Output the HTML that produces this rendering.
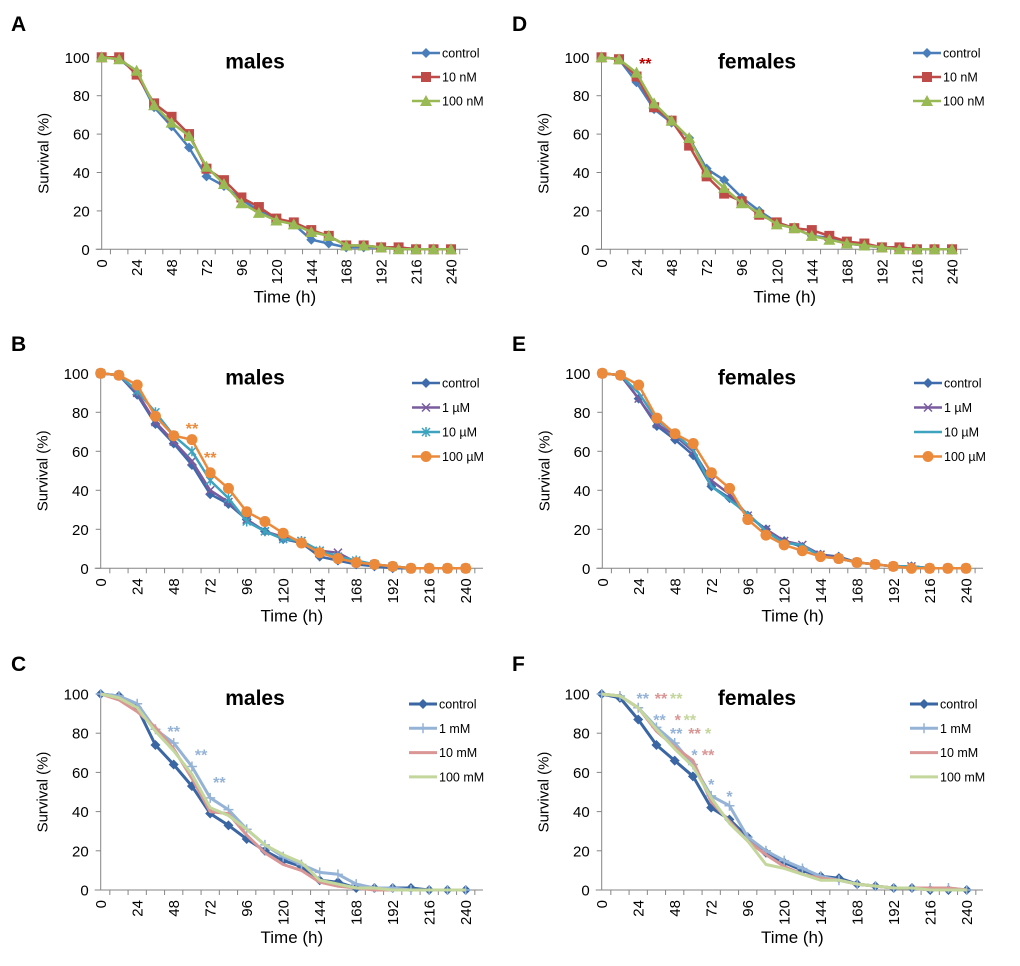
<!DOCTYPE html>
<html><head><meta charset="utf-8"><style>
html,body{margin:0;padding:0;background:#fff}
svg{display:block;font-family:"Liberation Sans",sans-serif}
</style></head><body>
<svg id="fig" width="1020" height="966" viewBox="0 0 1020 966"></svg>
<script>
const times=[0,12,24,36,48,60,72,84,96,108,120,132,144,156,168,180,192,204,216,228,240];
const xTicks=[0,24,48,72,96,120,144,168,192,216,240];
const yTicks=[0,20,40,60,80,100];
// Panel A (males, nM)
const aControl=[100,99,92,74,64,53,38,33,26,20,16,13,5,3,1,1,1,1,0,0,0];
const a10nM=[100,100,91,76,69,60,42,36,27,22,16,14,10,7,2,2,1,1,0,0,0];
const a100nM=[100,99,93,75,66,59,43,34,24,19,15,13,9,7,2,2,1,0,0,0,0];
// Panel D (females, nM)
const dControl=[100,99,87,73,66,58,42,36,27,20,14,11,7,6,3,2,1,1,0,0,0];
const d10nM=[100,99,90,74,67,54,38,29,25,18,14,11,10,7,4,3,1,1,0,0,0];
const d100nM=[100,99,92,76,67,58,40,32,24,19,13,11,7,5,3,2,1,0,0,0,0];
// Panel B (males, µM)
const bControl=[100,99,89,74,64,53,38,33,25,19,15,13,6,4,2,1,0,0,0,0,0];
const b1uM=[100,99,90,75,65,55,40,34,25,19,16,14,9,8,3,2,1,0,0,0,0];
const b10uM=[100,99,91,80,68,60,45,36,24,19,15,14,9,6,4,2,1,0,0,0,0];
const b100uM=[100,99,94,78,68,66,49,41,29,24,18,13,8,5,3,2,1,0,0,0,0];
// Panel E (females, µM)
const eControl=[100,99,87,73,66,58,42,36,27,20,14,11,7,6,3,2,1,1,0,0,0];
const e1uM=[100,99,87,74,68,60,45,38,27,20,14,12,7,5,3,2,1,1,0,0,0];
const e10uM=[100,99,90,76,69,61,42,35,28,19,13,12,6,5,3,2,1,1,0,0,0];
const e100uM=[100,99,94,77,69,64,49,41,25,17,12,9,6,5,3,2,1,0,0,0,0];
// Panel C (males, mM)
const cControl=[100,99,93,74,64,53,39,33,26,20,15,12,5,4,1,1,1,1,0,0,0];
const c1mM=[100,99,95,82,75,63,47,41,31,23,17,13,9,8,3,1,1,0,0,0,0];
const c10mM=[100,97,91,83,72,57,40,39,28,19,13,10,4,2,1,0,0,0,0,0,0];
const c100mM=[100,98,93,81,71,59,42,38,31,23,18,14,5,3,1,1,0,0,0,0,0];
// Panel F (females, mM)
const fControl=[100,98,87,74,66,58,42,36,27,19,14,10,7,6,3,2,1,1,0,0,0];
const f1mM=[100,99,93,83,75,64,48,43,27,20,15,11,7,5,3,2,1,1,1,1,0];
const f10mM=[100,99,93,81,73,66,45,35,25,18,12,8,6,5,3,2,1,1,1,1,0];
const f100mM=[100,99,93,82,72,63,47,34,25,13,11,8,5,5,3,2,1,1,0,0,0];

const NS='http://www.w3.org/2000/svg';
const svg=document.getElementById('fig');
function mk(tag,attrs,parent){const e=document.createElementNS(NS,tag);for(const k in attrs)e.setAttribute(k,attrs[k]);(parent||svg).appendChild(e);return e;}

function marker(g,type,x,y,col){
  let m;
  if(type==='diamond'){m=mk('path',{d:`M${x} ${y-5}L${x+5} ${y}L${x} ${y+5}L${x-5} ${y}Z`,fill:col},g);}
  else if(type==='square'){m=mk('rect',{x:x-5,y:y-5,width:10,height:10,fill:col},g);}
  else if(type==='triangle'){m=mk('path',{d:`M${x} ${y-6}L${x+6} ${y+5}L${x-6} ${y+5}Z`,fill:col},g);}
  else if(type==='circle'){m=mk('circle',{cx:x,cy:y,r:5.5,fill:col},g);}
  else if(type==='x'){m=mk('path',{d:`M${x-4} ${y-4}L${x+4} ${y+4}M${x+4} ${y-4}L${x-4} ${y+4}`,stroke:col,'stroke-width':1.5},g);}
  else if(type==='star'){m=mk('path',{d:`M${x-4} ${y-4}L${x+4} ${y+4}M${x+4} ${y-4}L${x-4} ${y+4}M${x} ${y-5}L${x} ${y+5}`,stroke:col,'stroke-width':1.5},g);}
  else if(type==='plus'){m=mk('path',{d:`M${x-5} ${y}L${x+5} ${y}M${x} ${y-5}L${x} ${y+5}`,stroke:col,'stroke-width':1.5},g);}
  else return;
  
  
}

function panel(p){
  const g=mk('g',{});
  
  
  const X=t=>p.x0+(p.x240-p.x0)*t/240;
  const Y=v=>p.y0-(p.y0-p.y100)*v/100;
  const L=mk('text',{x:p.lx,y:p.ly,'font-size':21,'font-weight':'bold',fill:'#000'},g);L.textContent=p.letter;
  
  const ya=mk('line',{x1:p.x0,y1:p.y100,x2:p.x0,y2:p.y0,stroke:'#868686','stroke-width':1},g);
  
  const xa=mk('line',{x1:p.x0-6,y1:p.y0,x2:p.xend,y2:p.y0,stroke:'#868686','stroke-width':1},g);
  
  yTicks.forEach(v=>{
    mk('line',{x1:p.x0-5,y1:Y(v),x2:p.x0,y2:Y(v),stroke:'#868686'},g);
    const t=mk('text',{x:p.x0-12,y:Y(v)+5.5,'font-size':15,'text-anchor':'end',fill:'#000'},g);t.textContent=v;
    
  });
  const step=(p.x240-p.x0)/20;
  for(let i=0;i<=20;i++){const xx=X(times[i])+step/2; if(xx<=p.xend+1) mk('line',{x1:xx,y1:p.y0,x2:xx,y2:p.y0+5,stroke:'#868686'},g);}
  xTicks.forEach(v=>{
    const t=mk('text',{transform:`translate(${X(v)+5.5},${p.y0+10}) rotate(-90)`,'font-size':15,'text-anchor':'end',fill:'#000'},g);t.textContent=v;
    
  });
  const xt=mk('text',{x:(p.x0+p.xend)/2,y:p.y0+53,'font-size':17,'text-anchor':'middle',fill:'#000'},g);xt.textContent='Time (h)';
  
  const yy=(p.y0+p.y100)/2;
  const yt=mk('text',{transform:`translate(${p.x0-53},${yy}) rotate(-90)`,'font-size':15,'text-anchor':'middle',fill:'#000'},g);yt.textContent='Survival (%)';
  
  const ti=mk('text',{x:p.tx,y:p.y100+11,'font-size':21,'font-weight':'bold','text-anchor':'middle',fill:'#000'},g);ti.textContent=p.title;
  
  p.series.forEach((s,si)=>{
    const sg=mk('g',{},g);
    
    
    const pts=s.data.map((v,i)=>X(times[i]).toFixed(1)+','+Y(v).toFixed(1)).join(' ');
    mk('polyline',{points:pts,fill:'none',stroke:s.col,'stroke-width':s.w||2.5,'stroke-linejoin':'round'},sg);
    s.data.forEach((v,i)=>marker(sg,s.m,X(times[i]),Y(v),s.col));
    const ly=p.legY+si*p.legDy;
    const lg=mk('g',{},g);
    
    
    mk('line',{x1:p.legX,y1:ly,x2:p.legX+28,y2:ly,stroke:s.col,'stroke-width':s.w||2.5},lg);
    marker(lg,s.m,p.legX+14,ly,s.col);
    const lt=mk('text',{x:p.legX+30,y:ly+4.5,'font-size':12.5,fill:'#000'},lg);lt.textContent=s.name;
  });
  (p.stars||[]).forEach(s=>{
    const t=mk('text',{x:X(s[0]),y:Y(s[1]),'font-size':16,'font-weight':'bold',fill:s[3],'text-anchor':'middle'},g);t.textContent=s[2];
    
  });
}

const blue='#4a7ebb',red='#be4b48',green='#98b954';
panel({letter:'A',lx:11,ly:31,title:'males',tx:255,x0:101.7,x240:451,y0:249.3,y100:57.3,xend:468,legX:412,legY:53,legDy:24,
 series:[{name:'control',data:aControl,col:blue,m:'diamond'},{name:'10 nM',data:a10nM,col:red,m:'square'},{name:'100 nM',data:a100nM,col:green,m:'triangle'}]});
panel({letter:'D',lx:512,ly:31,title:'females',tx:757,x0:601.5,x240:952,y0:249.3,y100:57.3,xend:968,legX:913,legY:53,legDy:24,
 series:[{name:'control',data:dControl,col:blue,m:'diamond'},{name:'10 nM',data:d10nM,col:red,m:'square'},{name:'100 nM',data:d100nM,col:green,m:'triangle'}],
 stars:[[30,94,'**','#c00000']]});
const bBlue='#3d6bab',purple='#7a5c9e',teal='#3ea3bf',orange='#ec8a3c';
panel({letter:'B',lx:11,ly:351,title:'males',tx:255,x0:100.7,x240:465.7,y0:568.3,y100:373.3,xend:483,legX:412,legY:383,legDy:24.5,
 series:[{name:'control',data:bControl,col:bBlue,m:'diamond'},{name:'1 µM',data:b1uM,col:purple,m:'x'},{name:'10 µM',data:b10uM,col:teal,m:'star'},{name:'100 µM',data:b100uM,col:orange,m:'circle'}],
 stars:[[60,69,'**',orange],[72,54,'**',orange]]});
panel({letter:'E',lx:512,ly:351,title:'females',tx:757,x0:602.3,x240:966,y0:568.3,y100:373.3,xend:983,legX:914,legY:383,legDy:24.5,
 series:[{name:'control',data:eControl,col:bBlue,m:'diamond'},{name:'1 µM',data:e1uM,col:purple,m:'x'},{name:'10 µM',data:e10uM,col:teal,m:'none'},{name:'100 µM',data:e100uM,col:orange,m:'circle'}]});
const cBlue='#3a66a3',lblue='#95b3d7',pink='#d99694',lgreen='#c3d69b';
panel({letter:'C',lx:11,ly:671,title:'males',tx:255,x0:100.7,x240:465.7,y0:890,y100:694,xend:483,legX:409,legY:704,legDy:24.3,
 series:[{name:'control',data:cControl,col:cBlue,m:'diamond',w:3},{name:'1 mM',data:c1mM,col:lblue,m:'plus',w:3},{name:'10 mM',data:c10mM,col:pink,m:'none',w:3},{name:'100 mM',data:c100mM,col:lgreen,m:'none',w:3}],
 stars:[[48,78,'**',lblue],[66,66,'**',lblue],[78,52,'**',lblue]]});
panel({letter:'F',lx:512,ly:671,title:'females',tx:757,x0:601.7,x240:966.7,y0:890,y100:694,xend:983,legX:910,legY:704,legDy:24.3,
 series:[{name:'control',data:fControl,col:cBlue,m:'diamond',w:3},{name:'1 mM',data:f1mM,col:lblue,m:'plus',w:3},{name:'10 mM',data:f10mM,col:pink,m:'none',w:3},{name:'100 mM',data:f100mM,col:lgreen,m:'none',w:3}],
 stars:[[27,95,'**',lblue],[39,95,'**',pink],[49,95,'**',lgreen],[38,84,'**',lblue],[50,84,'*',pink],[58,84,'**',lgreen],[49,77,'**',lblue],[61,77,'**',pink],[70,77,'*',lgreen],[61,66,'*',lblue],[70,66,'**',pink],[72,51,'*',lblue],[84,45,'*',lblue]]});
</script>
</body></html>
